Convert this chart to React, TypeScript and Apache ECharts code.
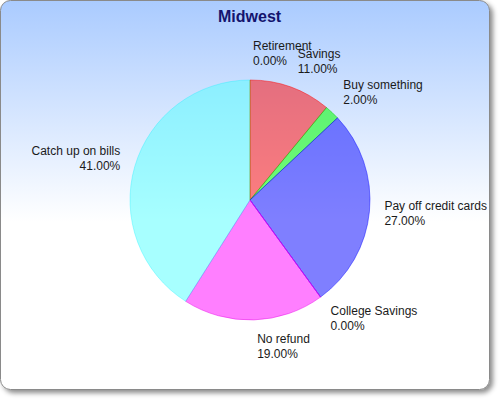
import React, { useEffect, useRef } from "react";
import * as echarts from "echarts";

// Refund plans for the Midwest region, in percent
const categories = [
  "Retirement",
  "Savings",
  "Buy something",
  "Pay off credit cards",
  "College Savings",
  "No refund",
  "Catch up on bills",
];
const shares = [0, 11, 2, 27, 0, 19, 41];
const sliceColors = [
  "rgba(255, 200, 0, 0.5)",
  "rgba(255, 0, 0, 0.5)",
  "rgba(0, 255, 0, 0.55)",
  "rgba(0, 0, 255, 0.5)",
  "rgba(128, 0, 255, 0.5)",
  "rgba(255, 0, 255, 0.5)",
  "rgba(80, 255, 255, 0.5)",
];
const sliceEdges = [
  "rgba(255, 200, 0, 0.7)",
  "rgba(255, 0, 0, 0.45)",
  "rgba(0, 200, 0, 0.45)",
  "rgba(0, 0, 255, 0.45)",
  "rgba(128, 0, 255, 0.45)",
  "rgba(230, 0, 230, 0.45)",
  "rgba(0, 240, 255, 0.3)",
];
const chartTitle = "Midwest";

export default function App() {
  const ref = useRef<HTMLDivElement>(null);

  useEffect(() => {
    if (!ref.current) return;
    const chart = echarts.init(ref.current, null, { renderer: "svg" });

    const data = categories.map((name, i) => ({
      name,
      value: shares[i],
      itemStyle: {
        color: sliceColors[i],
        borderColor: sliceEdges[i],
        borderWidth: 1,
      },
    }));

    chart.setOption({
      animation: false,
      graphic: [
        {
          type: "rect",
          z: -10,
          silent: true,
          shape: { x: 0.5, y: 0.5, width: 489, height: 389, r: 10 },
          style: {
            fill: new echarts.graphic.LinearGradient(0, 0, 0, 1, [
              { offset: 0, color: "#aacbff" },
              { offset: 0.57, color: "#ffffff" },
              { offset: 1, color: "#ffffff" },
            ]),
            stroke: "#8a8a8a",
            lineWidth: 1,
            shadowBlur: 5,
            shadowOffsetX: 3,
            shadowOffsetY: 3,
            shadowColor: "rgba(0, 0, 0, 0.45)",
          },
        },
      ],
      title: {
        text: chartTitle,
        left: 213,
        top: 3,
        textStyle: {
          fontFamily: "Liberation Sans, Arial, sans-serif",
          fontSize: 16,
          fontWeight: "bold",
          color: "#14146e",
        },
      },
      series: [
        {
          type: "pie",
          center: [250, 200],
          radius: 120,
          startAngle: 90,
          clockwise: true,
          avoidLabelOverlap: false,
          stillShowZeroSum: true,
          data,
          label: {
            show: true,
            position: "outside",
            fontFamily: "Liberation Sans, Arial, sans-serif",
            fontSize: 12,
            lineHeight: 15,
            color: "#1a1a1a",
            formatter: (p: any) => `${p.name}\n${Number(p.value).toFixed(2)}%`,
          },
          labelLine: {
            show: true,
            length: 12,
            length2: 0,
            lineStyle: { opacity: 0, width: 0 },
          },
          // Place each label box so that its corner nearest the pie sits just
          // beyond the rim, along the slice's middle direction.
          labelLayout: (params: any) => {
            const pts = params.labelLinePoints;
            if (!pts || pts.length < 2) return {};
            let dx = pts[1][0] - pts[0][0];
            let dy = pts[1][1] - pts[0][1];
            const len = Math.hypot(dx, dy) || 1;
            dx /= len;
            dy /= len;
            const toRight = dx > -1e-6;
            const h = params.labelRect.height;
            const v = (1 - dy) / 2;
            return {
              x: pts[1][0] + (toRight ? 3 : -3),
              y: pts[1][1] - v * h,
              align: toRight ? "left" : "right",
              verticalAlign: "top",
            };
          },
          emphasis: { disabled: true },
        },
      ],
    });

    return () => chart.dispose();
  }, []);

  return (
    <div
      ref={ref}
      style={{ position: "absolute", left: 0, top: 0, width: 500, height: 400 }}
    />
  );
}
